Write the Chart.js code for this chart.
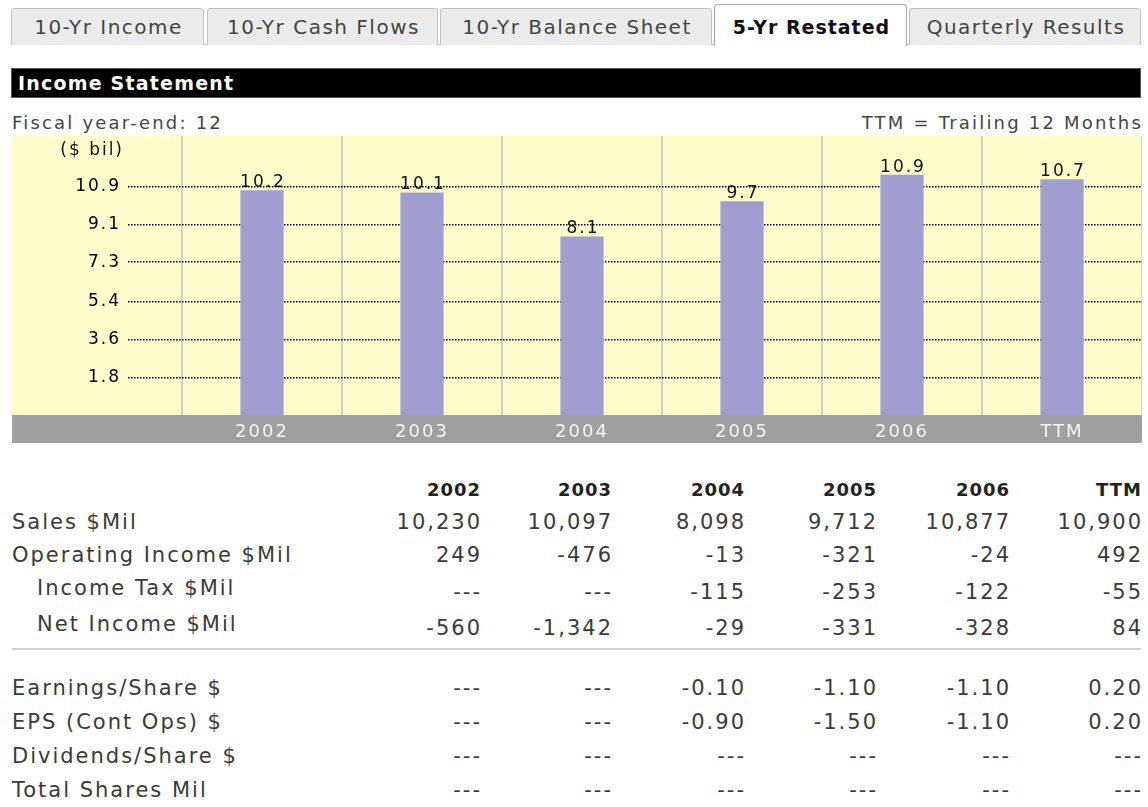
<!DOCTYPE html>
<html>
<head>
<meta charset="utf-8">
<script src="https://cdn.jsdelivr.net/npm/chart.js@4.4.1/dist/chart.umd.min.js"></script>
<style>
html,body{margin:0;padding:0;background:#fff;width:1148px;height:807px;overflow:hidden;}
body{position:relative;font-family:"DejaVu Sans",Verdana,sans-serif;}
.t{position:absolute;white-space:nowrap;line-height:30px;height:30px;}
.tab{position:absolute;box-sizing:border-box;background:#ebebeb;border:1px solid #c2c2c2;border-bottom:none;border-radius:4px 4px 0 0;}
#chartWrap{position:absolute;left:12px;top:136px;width:1130px;height:307px;}
</style>
</head>
<body>
<div id="page"></div>
<div id="chartWrap"><canvas id="c"></canvas></div>
<script>
// ---- chart data ----
const categories = ['2002', '2003', '2004', '2005', '2006', 'TTM'];
const salesBil = [10.2, 10.1, 8.1, 9.7, 10.9, 10.7];
const tickLabels = ['1.8', '3.6', '5.4', '7.3', '9.1', '10.9'];
const unitLabel = '($ bil)';

// ---- table data ----
const rowLabels = ['Sales $Mil', 'Operating Income $Mil', 'Income Tax $Mil', 'Net Income $Mil',
  'Earnings/Share $', 'EPS (Cont Ops) $', 'Dividends/Share $', 'Total Shares Mil'];
const sales = ['10,230', '10,097', '8,098', '9,712', '10,877', '10,900'];
const opIncome = ['249', '-476', '-13', '-321', '-24', '492'];
const incomeTax = ['---', '---', '-115', '-253', '-122', '-55'];
const netIncome = ['-560', '-1,342', '-29', '-331', '-328', '84'];
const earningsPerShare = ['---', '---', '-0.10', '-1.10', '-1.10', '0.20'];
const epsContOps = ['---', '---', '-0.90', '-1.50', '-1.10', '0.20'];
const dividendsPerShare = ['---', '---', '---', '---', '---', '---'];
const totalShares = ['---', '---', '---', '---', '---', '---'];
const tabs = ['10-Yr Income', '10-Yr Cash Flows', '10-Yr Balance Sheet', '5-Yr Restated', 'Quarterly Results'];

const tickValues = tickLabels.map(Number);

// ---- page furniture ----
const page = document.getElementById('page');
function el(cls, css, text) {
  const d = document.createElement('div');
  d.className = cls;
  Object.assign(d.style, css);
  if (text !== undefined) d.textContent = text;
  page.appendChild(d);
  return d;
}
function txt(text, x, cy, align, css) {
  const s = Object.assign({top: (cy - 15) + 'px'}, css);
  if (align === 'right') s.right = (1148 - x) + 'px';
  else if (align === 'center') { s.left = x + 'px'; s.transform = 'translateX(-50%)'; }
  else s.left = x + 'px';
  return el('t', s, text);
}

// tab strip
const tabBoxes = [[11, 204], [207, 438], [440, 712], [714, 907], [909, 1141]];
el('', {position: 'absolute', left: '11px', top: '44px', width: '1130px', height: '1px', background: '#c2c2c2'});
tabBoxes.forEach((b, i) => {
  const active = i === 3;
  el('tab', {left: b[0] + 'px', width: (b[1] - b[0]) + 'px',
    top: active ? '4px' : '8px', height: active ? '42px' : '37px',
    background: active ? '#ffffff' : '#ebebeb', borderColor: active ? '#a8a8a8' : '#c2c2c2'});
  txt(tabs[i], (b[0] + b[1]) / 2 + 1, 27, 'center', active
    ? {fontSize: '19px', fontWeight: 'bold', letterSpacing: '1px', color: '#111'}
    : {fontSize: '20px', letterSpacing: '1.5px', color: '#444'});
});

// black section header
el('', {position: 'absolute', left: '11px', top: '68px', width: '1130px', height: '30px', background: '#000', boxSizing: 'border-box', border: '1px solid #555'});
txt('Income Statement', 18, 83, 'left', {fontSize: '19px', fontWeight: 'bold', letterSpacing: '1.2px', color: '#fff'});

txt('Fiscal year-end: 12', 12, 123, 'left', {fontSize: '18px', letterSpacing: '2.2px', color: '#444'});
txt('TTM = Trailing 12 Months', 1143, 123, 'right', {fontSize: '18px', letterSpacing: '2.2px', color: '#444'});

// table
const colRight = [482, 613, 746, 878, 1011, 1143];
const tableRows = [
  {label: rowLabels[0], vals: sales, y: 522, ly: 522, indent: 0},
  {label: rowLabels[1], vals: opIncome, y: 555, ly: 555, indent: 0},
  {label: rowLabels[2], vals: incomeTax, y: 592, ly: 588, indent: 25},
  {label: rowLabels[3], vals: netIncome, y: 628, ly: 624, indent: 25},
  {label: rowLabels[4], vals: earningsPerShare, y: 688, ly: 688, indent: 0},
  {label: rowLabels[5], vals: epsContOps, y: 722, ly: 722, indent: 0},
  {label: rowLabels[6], vals: dividendsPerShare, y: 756, ly: 756, indent: 0},
  {label: rowLabels[7], vals: totalShares, y: 790, ly: 790, indent: 0}
];
categories.forEach((c, i) => txt(c, colRight[i] - 1, 490, 'right', {fontSize: '18px', fontWeight: 'bold', letterSpacing: '1px', color: '#222'}));
const cellCss = {fontSize: '21px', letterSpacing: '2px', color: '#3a3a3a'};
tableRows.forEach(r => {
  txt(r.label, 12 + r.indent, r.ly, 'left', cellCss);
  r.vals.forEach((v, i) => txt(v, colRight[i], r.y, 'right', cellCss));
});
el('', {position: 'absolute', left: '12px', top: '648px', width: '1129px', height: '2px', background: '#d2d2d2'});

// ---- chart ----
const LS = '2px';
const decorPlugin = {
  id: 'decor',
  beforeUpdate(chart) { chart.ctx.letterSpacing = LS; },
  beforeLayout(chart) { chart.ctx.letterSpacing = LS; },
  beforeDraw(chart) {
    const {ctx, chartArea, width, height} = chart;
    ctx.letterSpacing = LS;
    ctx.save();
    ctx.fillStyle = '#fffdcc';
    ctx.fillRect(0, 0, width, chartArea.bottom);
    ctx.fillStyle = '#a09ea0';
    ctx.fillRect(0, chartArea.bottom, width, height - chartArea.bottom);
    ctx.restore();
  },
  afterDatasetsDraw(chart) {
    const ctx = chart.ctx;
    const meta = chart.getDatasetMeta(0);
    ctx.save();
    ctx.letterSpacing = LS;
    ctx.font = '17px "DejaVu Sans"';
    ctx.fillStyle = '#111';
    ctx.textAlign = 'center';
    ctx.textBaseline = 'alphabetic';
    meta.data.forEach((bar, i) => {
      ctx.fillText(salesBil[i].toFixed(1), bar.x + 1, bar.y - 3);
    });
    const ys = chart.scales.y2;
    ctx.textAlign = 'right';
    ctx.textBaseline = 'middle';
    ctx.fillText(unitLabel, ys.right - 54 - 7 + 3, chart.chartArea.top + 15);
    ctx.restore();
  }
};

new Chart(document.getElementById('c'), {
  type: 'bar',
  data: {
    labels: categories,
    datasets: [{
      data: salesBil,
      yAxisID: 'y',
      backgroundColor: '#a09dd0',
      borderWidth: 0,
      barPercentage: 0.27,
      categoryPercentage: 1
    }]
  },
  options: {
    responsive: true,
    maintainAspectRatio: false,
    animation: false,
    layout: {padding: 0},
    plugins: {legend: {display: false}, tooltip: {enabled: false}},
    scales: {
      x: {
        offset: true,
        grid: {
          offset: true,
          drawTicks: false,
          lineWidth: 2,
          color: (ctx) => ctx.index === categories.length ? 'rgba(0,0,0,0)' : '#cfcfcf'
        },
        border: {display: false},
        ticks: {
          color: '#f4f4f4',
          font: {family: 'DejaVu Sans', size: 18},
          padding: 7,
          maxRotation: 0
        },
        afterFit(scale) { scale.height = 28; scale.paddingLeft = 0; scale.paddingRight = 0; }
      },
      y: {
        display: false,
        min: 0,
        max: 12.66
      },
      y2: {
        type: 'linear',
        position: 'left',
        min: 0,
        max: 13.32,
        afterBuildTicks(scale) { scale.ticks = tickValues.map(v => ({value: v})); },
        ticks: {
          color: '#000',
          font: {family: 'DejaVu Sans', size: 17},
          padding: 7,
          callback: (v) => tickLabels[tickValues.indexOf(v)]
        },
        grid: {
          color: '#000',
          lineWidth: 1.5,
          tickBorderDash: [1.5, 1.5],
          tickColor: '#000',
          tickWidth: 1.5,
          tickLength: 54,
          drawTicks: true
        },
        border: {display: false, dash: [1.5, 1.5]},
        afterFit(scale) { scale.width = 170; scale.paddingTop = 0; scale.paddingBottom = 0; }
      }
    }
  },
  plugins: [decorPlugin]
});
</script>
</body>
</html>
